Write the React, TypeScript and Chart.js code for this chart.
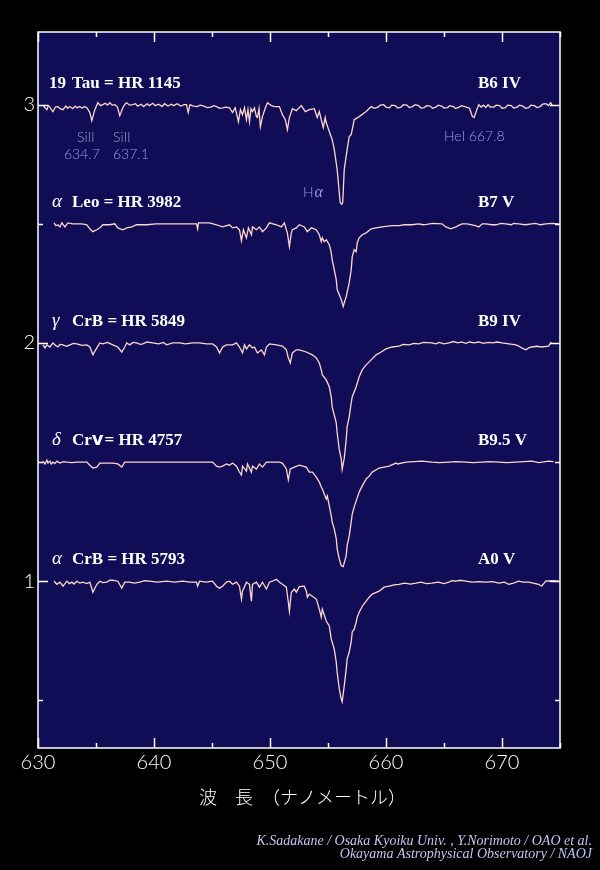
import React, { useEffect, useRef } from 'react';
import { Chart, registerables } from 'chart.js';

Chart.register(...registerables);

// ---- spectra: [wavelength (nm), continuum-normalised flux] ----
// 19 Tau = HR 1145 (B6 IV)
const tau19: [number, number][] = [
  [630.43, 0.998], [630.6, 0.987], [630.77, 0.979], [630.9, 0.996], [631.03, 0.990], [631.15, 0.979], [631.29, 0.971], [631.5, 0.990], [631.72, 0.992], [631.9, 0.983],
  [632.15, 0.979], [632.4, 0.994], [632.55, 0.985], [632.75, 0.992], [633.0, 0.983], [633.2, 0.994], [633.35, 0.987], [633.6, 0.992], [633.8, 0.985], [634.0, 0.992],
  [634.21, 0.987], [634.47, 0.967], [634.64, 0.933], [634.90, 0.979], [635.16, 1.008], [635.4, 0.996], [635.59, 1.000], [635.8, 1.006], [636.0, 0.998], [636.19, 1.008],
  [636.4, 0.998], [636.62, 1.000], [636.85, 0.990], [637.05, 0.954], [637.31, 0.987], [637.5, 1.002], [637.65, 1.008], [637.9, 0.998], [638.17, 1.000], [638.4, 1.004],
  [638.6, 0.994], [638.9, 1.002], [639.1, 0.992], [639.4, 1.004], [639.6, 0.996], [639.9, 1.006], [640.1, 0.996], [640.4, 1.002], [640.7, 0.992], [640.9, 1.004],
  [641.2, 0.994], [641.5, 1.002], [641.7, 0.996], [642.0, 1.004], [642.3, 0.994], [642.6, 1.000], [642.8, 1.000], [642.95, 0.967], [643.1, 1.000], [643.4, 0.994],
  [643.7, 0.992], [644.0, 0.998], [644.3, 0.994], [644.6, 0.988], [644.9, 0.990], [645.15, 0.996], [645.4, 0.992], [645.65, 0.985], [645.9, 0.987], [646.2, 0.990],
  [646.51, 0.987], [646.77, 0.967], [647.0, 0.987], [647.28, 0.929], [647.45, 0.979], [647.63, 0.958], [647.80, 0.987], [647.97, 0.937], [648.10, 0.979], [648.23, 0.929],
  [648.36, 0.983], [648.49, 0.971], [648.66, 0.987], [648.83, 0.950], [648.92, 0.946], [649.05, 0.983], [649.17, 0.908], [649.35, 0.950], [649.60, 0.987], [649.78, 1.008],
  [650.12, 0.996], [650.38, 0.992], [650.81, 0.992], [651.07, 0.958], [651.32, 0.937], [651.50, 0.895], [651.67, 0.946], [651.93, 0.983], [652.27, 0.975], [652.70, 0.996],
  [653.04, 0.971], [653.39, 0.979], [653.82, 0.983], [654.07, 0.946], [654.25, 0.971], [654.42, 0.937], [654.59, 0.904], [654.76, 0.946], [654.85, 0.925], [655.11, 0.887],
  [655.36, 0.854], [655.54, 0.812], [655.79, 0.728], [655.97, 0.632], [656.05, 0.590], [656.18, 0.582], [656.27, 0.590], [656.40, 0.728], [656.65, 0.812], [656.83, 0.866],
  [657.00, 0.874], [657.26, 0.937], [657.69, 0.950], [658.29, 0.971], [658.72, 0.992], [659.0, 0.985], [659.3, 0.990], [659.5, 0.998], [659.8, 1.000], [660.0, 0.990],
  [660.3, 0.987], [660.5, 0.998], [660.8, 0.996], [661.0, 0.986], [661.3, 0.990], [661.5, 1.000], [661.8, 0.998], [662.0, 0.988], [662.3, 0.992], [662.5, 1.000],
  [662.8, 0.996], [663.0, 0.986], [663.3, 0.988], [663.5, 0.996], [663.8, 0.994], [664.0, 0.985], [664.3, 0.990], [664.5, 0.998], [664.8, 0.994], [665.0, 0.986],
  [665.3, 0.988], [665.5, 0.996], [665.8, 0.992], [666.0, 0.984], [666.3, 0.990], [666.5, 0.996], [666.8, 0.992], [667.2, 0.985], [667.45, 0.950], [667.6, 0.946],
  [667.8, 0.975], [668.0, 1.000], [668.2, 0.990], [668.4, 0.998], [668.6, 0.988], [668.8, 1.000], [669.0, 0.990], [669.3, 0.990], [669.5, 0.998], [669.8, 0.996],
  [670.0, 0.985], [670.3, 0.988], [670.5, 0.998], [670.8, 0.996], [671.0, 0.986], [671.3, 0.990], [671.5, 0.998], [671.8, 0.994], [672.0, 0.985], [672.3, 0.988],
  [672.5, 0.998], [672.8, 0.996], [673.0, 0.988], [673.3, 0.992], [673.5, 1.002], [673.8, 1.004], [674.0, 0.996], [674.2, 1.008], [674.35, 0.994],
];

// alpha Leo = HR 3982 (B7 V)
const alphaLeo: [number, number][] = [
  [631.38, 1.004], [631.55, 0.992], [631.72, 0.996], [631.9, 0.987], [632.06, 1.004], [632.32, 0.987], [632.58, 1.004], [633.0, 1.0], [633.78, 1.0], [634.21, 0.996],
  [634.47, 0.979], [634.73, 0.967], [635.07, 0.975], [635.33, 0.983], [635.59, 0.996], [636.19, 0.996], [636.62, 1.0], [636.88, 0.983], [637.31, 0.975], [637.65, 0.983],
  [638.08, 0.987], [638.51, 0.996], [639.37, 0.996], [640.2, 1.0], [641.09, 1.0], [642.21, 1.0], [643.67, 1.0], [643.76, 0.979], [643.84, 1.004], [644.79, 1.004],
  [645.39, 0.996], [645.91, 0.987], [646.51, 0.996], [646.77, 0.983], [647.11, 0.987], [647.37, 0.975], [647.54, 0.929], [647.71, 0.975], [647.97, 0.941], [648.14, 0.983],
  [648.40, 0.954], [648.49, 0.987], [648.83, 0.975], [649.09, 0.987], [649.35, 0.967], [649.69, 0.983], [649.95, 1.004], [650.55, 0.996], [650.98, 0.987], [651.24, 1.004],
  [651.41, 0.975], [651.50, 0.962], [651.67, 0.904], [651.84, 0.962], [651.93, 0.975], [652.27, 0.983], [652.53, 0.996], [652.96, 0.987], [653.22, 0.967], [653.56, 0.983],
  [653.99, 0.975], [654.25, 0.954], [654.42, 0.925], [654.51, 0.941], [654.68, 0.925], [654.85, 0.933], [655.11, 0.912], [655.28, 0.879], [655.36, 0.849], [655.54, 0.808],
  [655.71, 0.766], [655.79, 0.724], [656.14, 0.682], [656.31, 0.653], [656.57, 0.695], [656.83, 0.753], [657.00, 0.808], [657.09, 0.862], [657.26, 0.891], [657.43, 0.883],
  [657.52, 0.921], [657.69, 0.941], [657.95, 0.954], [658.29, 0.962], [658.72, 0.979], [659.15, 0.983], [659.66, 0.987], [660.52, 0.992], [661.12, 0.992], [661.6, 0.996],
  [662.24, 0.996], [662.8, 1.0], [663.2, 0.996], [663.5, 0.998], [664.0, 1.002], [664.82, 1.0], [665.16, 0.987], [665.59, 0.979], [666.02, 0.987], [666.54, 1.0],
  [667.0, 1.0], [667.40, 0.996], [667.7, 0.992], [668.00, 0.987], [668.3, 1.0], [668.60, 1.0], [669.12, 0.996], [669.5, 0.996], [669.9, 1.002], [670.32, 1.0],
  [670.8, 0.996], [671.0, 1.002], [671.44, 1.0], [672.0, 0.996], [672.56, 1.0], [672.9, 1.002], [673.3, 0.996], [673.77, 1.0], [674.3, 1.002], [674.9, 1.0],
];

// gamma CrB = HR 5849 (B9 IV)
const gammaCrB: [number, number][] = [
  [630.43, 0.992], [630.6, 0.979], [630.77, 0.992], [631.03, 0.983], [631.29, 1.0], [631.5, 0.990], [631.72, 0.983], [631.9, 0.994], [632.15, 0.992], [632.45, 0.986],
  [632.75, 0.992], [633.05, 0.998], [633.35, 0.996], [633.8, 0.990], [634.21, 0.992], [634.47, 0.983], [634.73, 0.950], [635.07, 0.979], [635.33, 1.0], [635.59, 0.996],
  [636.0, 1.002], [636.45, 0.992], [636.88, 0.983], [637.22, 0.962], [637.48, 0.983], [637.65, 1.0], [637.91, 0.992], [638.2, 1.002], [638.51, 1.0], [638.8, 0.994],
  [639.03, 0.996], [639.4, 1.004], [639.89, 1.0], [640.4, 0.996], [640.8, 1.002], [641.09, 0.992], [641.6, 1.0], [642.21, 1.0], [642.7, 0.996], [643.33, 1.0],
  [643.93, 1.0], [644.5, 0.996], [645.05, 0.996], [645.39, 0.983], [645.65, 0.958], [645.91, 0.983], [646.25, 0.992], [646.77, 0.992], [647.11, 1.0], [647.37, 0.983],
  [647.63, 0.958], [647.80, 0.992], [647.97, 0.975], [648.23, 0.992], [648.49, 0.979], [648.66, 0.983], [648.92, 0.958], [649.26, 0.971], [649.52, 0.950], [649.69, 0.983],
  [649.95, 0.996], [650.55, 0.992], [651.07, 0.987], [651.41, 0.971], [651.58, 0.937], [651.75, 0.916], [651.93, 0.958], [652.27, 0.971], [652.53, 0.971], [653.13, 0.962],
  [653.65, 0.950], [653.99, 0.937], [654.25, 0.916], [654.42, 0.887], [654.51, 0.866], [654.85, 0.845], [655.11, 0.816], [655.28, 0.774], [655.36, 0.732], [655.71, 0.665],
  [655.79, 0.623], [655.97, 0.552], [656.14, 0.515], [656.22, 0.469], [656.40, 0.515], [656.57, 0.594], [656.65, 0.649], [656.83, 0.690], [657.00, 0.749], [657.09, 0.774],
  [657.43, 0.816], [657.69, 0.858], [657.95, 0.887], [658.29, 0.908], [658.72, 0.929], [659.15, 0.950], [659.58, 0.962], [660.00, 0.975], [660.52, 0.983], [661.12, 0.987],
  [661.5, 0.994], [661.98, 0.992], [662.4, 0.998], [662.84, 0.996], [663.2, 1.002], [663.96, 1.0], [664.3, 0.996], [664.6, 1.002], [665.0, 0.996], [665.42, 1.0],
  [665.8, 1.006], [666.2, 1.0], [666.5, 1.004], [666.89, 0.998], [667.2, 1.004], [667.6, 1.0], [668.0, 1.004], [668.4, 0.998], [668.8, 1.002], [669.2, 1.0],
  [669.6, 1.004], [670.0, 1.0], [670.6, 0.996], [671.19, 0.992], [671.45, 0.987], [671.70, 0.979], [672.05, 0.971], [672.30, 0.979], [672.56, 0.983], [673.0, 0.986],
  [673.42, 0.983], [674.02, 0.987], [674.19, 1.0], [674.3, 1.0],
];

// delta Crv = HR 4757 (B9.5 V)
const deltaCrv: [number, number][] = [
  [630.43, 1.004], [630.60, 0.992], [630.77, 1.008], [630.86, 0.996], [631.03, 1.004], [631.15, 0.992], [631.29, 1.0], [631.45, 0.994], [631.63, 1.004], [631.89, 0.996],
  [632.2, 1.002], [632.49, 1.0], [632.9, 0.998], [633.35, 1.0], [634.21, 1.0], [634.47, 0.987], [634.73, 0.975], [635.07, 0.979], [635.33, 0.996], [636.45, 0.996],
  [636.88, 0.992], [637.22, 0.979], [637.48, 1.0], [638.17, 1.0], [639.37, 1.0], [641.09, 1.0], [642.81, 1.0], [644.53, 1.0], [645.05, 1.0], [645.39, 0.983],
  [645.65, 0.979], [645.91, 0.983], [646.25, 0.992], [646.51, 0.987], [646.77, 0.996], [647.11, 0.983], [647.37, 0.958], [647.54, 0.946], [647.63, 0.983], [647.97, 0.962],
  [648.06, 0.992], [648.40, 0.958], [648.49, 0.983], [648.83, 0.971], [649.09, 0.992], [649.35, 0.979], [649.69, 1.0], [650.21, 1.0], [650.81, 1.0], [651.07, 0.996],
  [651.41, 0.971], [651.58, 0.925], [651.75, 0.971], [652.10, 0.979], [652.53, 0.987], [653.13, 0.979], [653.39, 0.958], [653.65, 0.958], [653.99, 0.937], [654.25, 0.916],
  [654.42, 0.895], [654.51, 0.887], [654.85, 0.845], [654.94, 0.858], [655.11, 0.816], [655.28, 0.774], [655.36, 0.749], [655.54, 0.720], [655.71, 0.678], [655.79, 0.636],
  [655.97, 0.594], [656.14, 0.565], [656.31, 0.561], [656.57, 0.607], [656.65, 0.649], [656.83, 0.690], [657.00, 0.749], [657.09, 0.782], [657.26, 0.812], [657.43, 0.837],
  [657.69, 0.874], [657.95, 0.900], [658.29, 0.929], [658.55, 0.941], [658.81, 0.958], [659.41, 0.975], [659.84, 0.979], [660.26, 0.983], [660.87, 0.996], [661.0, 0.992],
  [661.73, 1.0], [662.4, 1.002], [663.10, 1.004], [663.96, 1.0], [664.6, 0.998], [665.42, 1.0], [666.0, 1.002], [666.89, 1.0], [667.5, 0.998], [668.27, 1.0],
  [668.9, 1.002], [669.73, 1.0], [670.4, 0.998], [671.19, 1.0], [671.9, 1.002], [672.56, 1.004], [673.2, 0.998], [674.02, 1.004], [674.45, 1.002],
];

// alpha CrB = HR 5793 (A0 V)
const alphaCrB: [number, number][] = [
  [631.38, 1.0], [631.63, 0.987], [631.89, 0.996], [632.15, 0.979], [632.49, 1.0], [632.7, 0.990], [632.92, 0.996], [633.1, 0.988], [633.35, 1.0], [633.6, 0.992],
  [633.87, 0.996], [634.2, 0.990], [634.47, 0.996], [634.73, 0.954], [635.07, 0.987], [635.33, 1.0], [635.6, 0.994], [635.93, 0.996], [636.2, 1.004], [636.45, 1.004],
  [636.88, 1.0], [637.22, 0.971], [637.48, 0.996], [637.91, 0.996], [638.3, 0.992], [638.77, 0.996], [639.2, 1.002], [639.63, 1.0], [640.3, 0.996], [641.09, 1.0],
  [641.8, 0.996], [642.47, 1.0], [643.1, 0.996], [643.67, 0.996], [643.76, 0.979], [643.93, 1.0], [644.5, 0.996], [645.05, 1.0], [645.39, 0.979], [645.65, 0.971],
  [645.91, 0.979], [646.25, 0.996], [646.51, 1.0], [646.77, 0.987], [647.11, 0.996], [647.37, 0.979], [647.54, 0.925], [647.63, 0.958], [647.97, 0.996], [648.23, 0.987],
  [648.40, 0.916], [648.49, 0.987], [648.83, 0.996], [649.09, 0.975], [649.35, 0.996], [649.69, 0.967], [649.95, 0.996], [650.21, 1.0], [650.55, 1.008], [650.81, 0.996],
  [651.07, 0.987], [651.41, 0.975], [651.58, 0.912], [651.67, 0.874], [651.84, 0.954], [652.10, 0.967], [652.27, 0.954], [652.53, 0.977], [652.96, 0.979], [653.13, 0.958],
  [653.22, 0.933], [653.39, 0.946], [653.65, 0.937], [653.99, 0.925], [654.25, 0.883], [654.42, 0.849], [654.51, 0.883], [654.85, 0.833], [655.11, 0.812], [655.28, 0.757],
  [655.36, 0.745], [655.54, 0.715], [655.71, 0.661], [655.79, 0.619], [655.97, 0.548], [656.14, 0.506], [656.22, 0.494], [656.40, 0.561], [656.57, 0.632], [656.65, 0.674],
  [656.83, 0.703], [657.00, 0.745], [657.09, 0.787], [657.26, 0.799], [657.43, 0.828], [657.52, 0.849], [657.69, 0.870], [657.95, 0.895], [658.29, 0.916], [658.55, 0.933],
  [658.81, 0.946], [659.41, 0.958], [659.84, 0.975], [660.26, 0.979], [660.7, 0.985], [661.12, 0.987], [661.6, 0.992], [662.1, 0.988], [662.58, 0.992], [663.0, 0.996],
  [663.5, 0.990], [663.96, 0.992], [664.5, 0.996], [665.0, 0.990], [665.42, 0.996], [665.7, 1.002], [666.02, 1.0], [666.4, 1.004], [666.89, 1.0], [667.40, 0.996],
  [668.0, 0.998], [668.60, 0.996], [669.2, 0.998], [669.73, 0.992], [670.2, 0.996], [670.58, 0.987], [671.0, 0.992], [671.44, 1.0], [671.8, 0.996], [672.30, 0.996],
  [672.7, 0.992], [673.16, 0.987], [673.42, 0.979], [673.77, 1.0], [674.3, 1.002], [674.9, 1.0],
];

// vertical shift applied to each normalised spectrum
const offsets = [2, 1.5, 1, 0.5, 0];

// star labels
const starPrefixes = ['19', 'α', 'γ', 'δ', 'α'];
const starNames = [
  [{ t: 'Tau = HR 1145' }],
  [{ t: 'Leo = HR 3982' }],
  [{ t: 'CrB = HR 5849' }],
  [{ t: 'Cr' }, { t: 'v', b: true }, { t: '= HR 4757' }],
  [{ t: 'CrB = HR 5793' }],
];
const spectralTypes = ['B6 IV', 'B7 V', 'B9 IV', 'B9.5 V', 'A0 V'];

// axis ticks
const xTickValues = [630, 635, 640, 645, 650, 655, 660, 665, 670, 675];
const yTickValues = [0.5, 1, 1.5, 2, 2.5, 3];

const axisTitle = '波　長　（ナノメートル）';
const credits = [
  'K.Sadakane / Osaka Kyoiku Univ. , Y.Norimoto / OAO et al.',
  'Okayama Astrophysical Observatory / NAOJ',
];

const PLOT_BG = '#100c56';
const LINE = '#ffd6cc';
const NOTE = '#9c9cdc';
const SANS = 'Lato, "DejaVu Sans", sans-serif';
const SERIF = '"Liberation Serif", "Times New Roman", serif';

const spectra = [tau19, alphaLeo, gammaCrB, deltaCrv, alphaCrB];

const backdrop = {
  id: 'backdrop',
  beforeDraw(chart: any) {
    const { ctx, chartArea: a } = chart;
    ctx.save();
    ctx.fillStyle = '#000';
    ctx.fillRect(0, 0, chart.width, chart.height);
    ctx.fillStyle = PLOT_BG;
    ctx.fillRect(a.left, a.top, a.right - a.left, a.bottom - a.top);
    ctx.restore();
  },
};

const frame = {
  id: 'frame',
  afterDraw(chart: any) {
    const { ctx, chartArea: a, scales } = chart;
    const xs = scales.x;
    const ys = scales.y;
    ctx.save();
    ctx.strokeStyle = '#fff';
    ctx.lineWidth = 1.5;
    ctx.strokeRect(a.left, a.top, a.right - a.left, a.bottom - a.top);
    ctx.beginPath();
    xs.ticks.forEach((t: any) => {
      const px = Math.round(xs.getPixelForValue(t.value)) + 0.5;
      const len = t.value % 10 === 0 ? 10 : 5;
      ctx.moveTo(px, a.bottom);
      ctx.lineTo(px, a.bottom - len);
      ctx.moveTo(px, a.top);
      ctx.lineTo(px, a.top + len);
    });
    ys.ticks.forEach((t: any) => {
      const py = Math.round(ys.getPixelForValue(t.value)) + 0.5;
      const len = Number.isInteger(t.value) ? 10 : 5;
      ctx.moveTo(a.left, py);
      ctx.lineTo(a.left + len, py);
      ctx.moveTo(a.right, py);
      ctx.lineTo(a.right - len, py);
    });
    ctx.stroke();
    ctx.restore();
  },
};

const texts = {
  id: 'texts',
  afterDraw(chart: any) {
    const { ctx } = chart;
    const ys = chart.scales.y;
    ctx.save();
    ctx.textBaseline = 'alphabetic';
    ctx.textAlign = 'left';

    // star names and spectral types above each spectrum
    offsets.forEach((off, i) => {
      const base = Math.round(ys.getPixelForValue(off + 1)) - 17;
      ctx.fillStyle = '#fff';
      const prefix = starPrefixes[i];
      if (/^\d/.test(prefix)) {
        ctx.font = `bold 17px ${SERIF}`;
        ctx.fillText(prefix, 49, base);
      } else {
        ctx.font = `italic 19px ${SERIF}`;
        ctx.fillText(prefix, 52, base);
      }
      let x = 72;
      starNames[i].forEach((seg: any) => {
        ctx.font = seg.b ? `bold 18px "DejaVu Sans", sans-serif` : `bold 17px ${SERIF}`;
        ctx.fillText(seg.t, x, base);
        x += ctx.measureText(seg.t).width + (seg.b ? 1 : 0);
      });
      ctx.font = `bold 17px ${SERIF}`;
      ctx.fillText(spectralTypes[i], 478, base);
    });

    // line identifications
    ctx.fillStyle = NOTE;
    ctx.font = `300 14px ${SANS}`;
    ctx.fillText('SiII', 77, 142);
    ctx.fillText('634.7', 64, 159);
    ctx.fillText('SiII', 113, 142);
    ctx.fillText('637.1', 113, 159);
    ctx.fillText('HeI 667.8', 444, 141);
    ctx.fillText('H', 303, 197);
    const hw = ctx.measureText('H').width;
    ctx.font = `italic 16px ${SERIF}`;
    ctx.fillText('α', 303 + hw + 1, 197);

    // axis title
    ctx.fillStyle = '#fff';
    ctx.font = `300 18px "Noto Sans CJK JP", sans-serif`;
    ctx.textBaseline = 'middle';
    ctx.fillText(axisTitle, 199, 797);

    // credits
    ctx.textBaseline = 'alphabetic';
    ctx.textAlign = 'right';
    ctx.fillStyle = '#c4c4f4';
    ctx.font = `italic 14px ${SERIF}`;
    ctx.fillText(credits[0], 592, 845);
    ctx.fillText(credits[1], 592, 858);
    ctx.restore();
  },
};

export default function App() {
  const ref = useRef<HTMLCanvasElement>(null);

  useEffect(() => {
    document.body.style.margin = '0';
    document.body.style.background = '#000';
    const canvas = ref.current;
    if (!canvas) return;

    const datasets = spectra.map((s, i) => ({
      data: s.map(([w, f]) => ({ x: w, y: f + offsets[i] })),
      borderColor: LINE,
      borderWidth: 1.3,
      pointRadius: 0,
      tension: 0,
      fill: false,
    }));

    const chart = new Chart(canvas, {
      type: 'line',
      data: { datasets },
      options: {
        animation: false,
        responsive: false,
        devicePixelRatio: 1,
        layout: { padding: { top: 32, right: 40, left: 0, bottom: 0 } },
        plugins: { legend: { display: false }, tooltip: { enabled: false } },
        scales: {
          x: {
            type: 'linear',
            min: 630,
            max: 675,
            grid: { display: false, drawTicks: false },
            border: { display: false },
            afterBuildTicks: (s: any) => {
              s.ticks = xTickValues.map((v) => ({ value: v }));
            },
            afterFit: (s: any) => {
              s.height = 122;
            },
            ticks: {
              color: '#fff',
              font: { family: SANS, size: 20, weight: '300' },
              padding: 3,
              maxRotation: 0,
              autoSkip: false,
              callback: (v: any) => (v % 10 === 0 ? String(v) : ''),
            },
          },
          y: {
            type: 'linear',
            min: 0.3,
            max: 3.305,
            grid: { display: false, drawTicks: false },
            border: { display: false },
            afterBuildTicks: (s: any) => {
              s.ticks = yTickValues.map((v) => ({ value: v }));
            },
            afterFit: (s: any) => {
              s.width = 38;
            },
            ticks: {
              color: '#fff',
              font: { family: SANS, size: 20, weight: '300' },
              padding: 3,
              autoSkip: false,
              callback: (v: any) => (Number.isInteger(v) ? String(v) : ''),
            },
          },
        },
      } as any,
      plugins: [backdrop, frame, texts],
    });

    return () => chart.destroy();
  }, []);

  return <canvas ref={ref} width={600} height={870} style={{ display: 'block' }} />;
}
